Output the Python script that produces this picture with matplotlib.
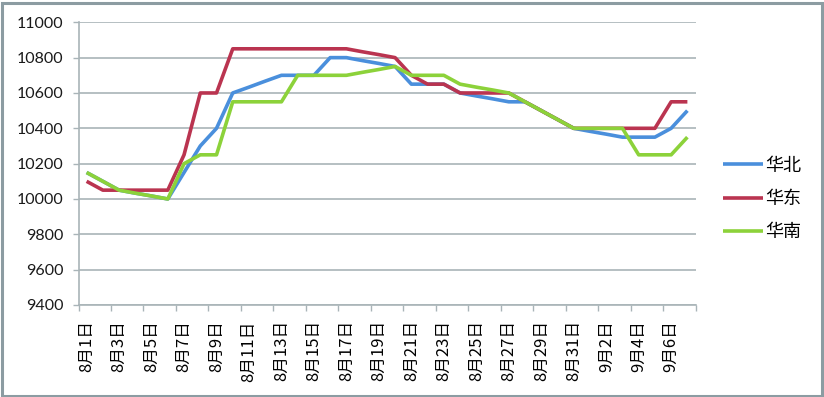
import matplotlib
matplotlib.use("Agg")
import matplotlib.pyplot as plt
from matplotlib.patches import Rectangle

plt.rcParams['font.family'] = ['Lato', 'Noto Sans CJK SC', 'DejaVu Sans']

dates = ["8月1日", "8月2日", "8月3日", "8月4日", "8月5日", "8月6日", "8月7日", "8月8日",
         "8月9日", "8月10日", "8月11日", "8月12日", "8月13日", "8月14日", "8月15日",
         "8月16日", "8月17日", "8月18日", "8月19日", "8月20日", "8月21日", "8月22日",
         "8月23日", "8月24日", "8月25日", "8月26日", "8月27日", "8月28日", "8月29日",
         "8月30日", "8月31日", "9月1日", "9月2日", "9月3日", "9月4日", "9月5日",
         "9月6日", "9月7日"]

north = [10150, 10100, 10050, 10033, 10017, 10000, 10150, 10300, 10400, 10600,
         10633, 10667, 10700, 10700, 10700, 10800, 10800, 10783, 10767, 10750,
         10650, 10650, 10650, 10600, 10583, 10567, 10550, 10550, 10500, 10450,
         10400, 10383, 10367, 10350, 10350, 10350, 10400, 10500]
east = [10100, 10050, 10050, 10050, 10050, 10050, 10250, 10600, 10600, 10850,
        10850, 10850, 10850, 10850, 10850, 10850, 10850, 10833, 10817, 10800,
        10700, 10650, 10650, 10600, 10600, 10600, 10600, 10550, 10500, 10450,
        10400, 10400, 10400, 10400, 10400, 10400, 10550, 10550]
south = [10150, 10100, 10050, 10033, 10017, 10000, 10200, 10250, 10250, 10550,
         10550, 10550, 10550, 10700, 10700, 10700, 10700, 10717, 10733, 10750,
         10700, 10700, 10700, 10650, 10633, 10617, 10600, 10550, 10500, 10450,
         10400, 10400, 10400, 10400, 10250, 10250, 10250, 10350]

series_names = ["华北", "华东", "华南"]
colors = ["#4A8FDC", "#BA3450", "#8CD23A"]
yticks = [9400, 9600, 9800, 10000, 10200, 10400, 10600, 10800, 11000]

fig = plt.figure(figsize=(8.24, 3.97), dpi=100)
ax = fig.add_axes([78.5 / 824, 1 - 305 / 397, (695.5 - 78.5) / 824, (305 - 22.3) / 397])

x = list(range(1, len(dates) + 1))
for vals, name, c in zip([north, east, south], series_names, colors):
    ax.plot(x, vals, color=c, lw=2.6, label=name, solid_joinstyle='round', solid_capstyle='butt')

ax.set_xlim(0.5, len(dates) + 0.5)
ax.set_ylim(9400, 11000)
ax.set_yticks(yticks)
ax.set_yticklabels([str(v) for v in yticks])
ax.grid(axis='y', color='#A9B4B8', lw=1.2)
ax.set_axisbelow(True)

ax.set_xticks(x[::2])
ax.set_xticklabels(dates[::2], rotation=90, fontsize=12,
                   family=['Noto Sans CJK SC', 'DejaVu Sans'])
ax.set_xticks([v + 0.5 for v in range(0, len(dates) + 1, 2)], minor=True)
ax.tick_params(axis='x', which='major', length=0, pad=11)
ax.tick_params(axis='x', which='minor', length=4, color='#A9B4B8', width=1)
ax.tick_params(axis='y', length=4, color='#A9B4B8', width=1, pad=7, labelsize=11.5,
               labelcolor='#1a1a1a')

for s in ['top', 'right']:
    ax.spines[s].set_visible(False)
for s in ['left', 'bottom']:
    ax.spines[s].set_color('#A9B4B8')
    ax.spines[s].set_linewidth(1.2)

leg = fig.legend(loc='center left', bbox_to_anchor=(723 / 824, 1 - 199 / 397),
                 frameon=False, borderpad=0, borderaxespad=0, handlelength=2.2,
                 handletextpad=0.15, labelspacing=0.85,
                 prop={'family': ['Noto Sans CJK SC', 'DejaVu Sans'], 'size': 13})

fig.patches.append(Rectangle((1.5 / 824, 1.5 / 397), 820.5 / 824, 393 / 397,
                             transform=fig.transFigure, fill=False,
                             edgecolor='#8C9CA2', lw=2.2))

fig.savefig("out.png", dpi=100)
